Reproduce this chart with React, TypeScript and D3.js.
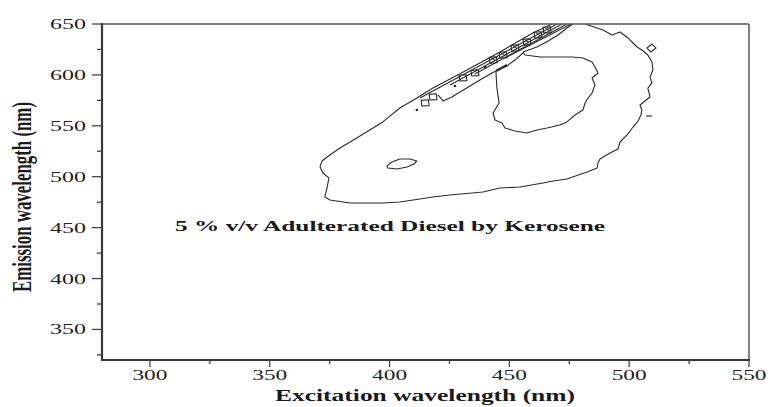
import React from "react";
import * as d3 from "d3";

// Axis ticks
const xMajor = [300, 350, 400, 450, 500, 550];
const xMinor = [325, 375, 425, 475, 525];
const yMajor = [350, 400, 450, 500, 550, 600, 650];
const yMinor = [325, 375, 425, 475, 525, 575, 625];

// Outer contour (excitation nm, emission nm)
const outerEx = [467.8, 459.8, 453.2, 446.1, 440.7, 432.3, 425.2, 418.1, 411.4, 404.3, 397.2, 389.7, 383.5, 379.3, 375.1, 371.8, 371, 372.2, 374.7, 373.9, 373, 375.1, 383.5, 397.2, 404.3, 418.1, 425.2, 439, 446.1, 454.4, 464, 468.2, 474, 482.4, 486.6, 487, 487.8, 492, 495.3, 496.2, 499.1, 501.6, 503.7, 504.9, 505.3, 504.5, 506.6, 508.7, 507.8, 509.5, 508.7, 509.9, 509.5, 507.8, 505.3, 503.3, 499.5, 496.2, 492.8, 489.1, 481.6];
const outerEm = [650, 641.2, 632.3, 622.5, 615.6, 604.8, 596, 587.1, 577.3, 567.5, 553.8, 543, 534.1, 528.2, 521.4, 515.5, 509.6, 503.7, 498.8, 488.9, 480.1, 477.2, 474.2, 474.2, 475.2, 480.1, 482.1, 485, 488.9, 489.9, 493.9, 495.8, 497.8, 504.7, 508.6, 513.5, 517.4, 523.3, 527.2, 534.1, 541, 548.8, 554.7, 560.6, 565.5, 570.5, 574.4, 578.3, 587.1, 592.1, 598, 604.8, 612.7, 619.6, 624.5, 627.4, 636.3, 642.1, 639.2, 644.1, 650];

// Inner "island" contour
const islandEx = [476.5, 474, 470.3, 466.9, 461.5, 455.7, 456.5, 459.8, 462.8, 465.7, 471.1, 476.1, 480.7, 484.5, 485.7, 487, 484.5, 485.7, 484.5, 482.8, 481.6, 480.7, 477.4, 474, 471.1, 465.7, 461.5, 457.3, 452.3, 448.2, 446.9, 444, 443.2, 445.7, 444.8, 444.4];
const islandEm = [650, 646.1, 639.2, 634.3, 627.4, 622.5, 619.6, 618.6, 617.6, 617.6, 617.6, 617.6, 616.6, 612.7, 607.8, 601.9, 597, 590.1, 582.2, 577.3, 572.4, 565.5, 560.6, 553.8, 550.8, 547.9, 545.9, 543, 544.9, 547.9, 552.8, 555.7, 562.6, 572.4, 587.1, 602.9];

// Lower edge of the scatter band
const bandEx = [420.2, 422.3, 426, 431.5, 437.7, 442.7, 446.1, 449, 452.3, 455.7];
const bandEm = [580.3, 574.4, 578.3, 586.2, 595, 601.9, 605.8, 608.8, 614.6, 621.5];

// Dense parallel contours in the band (start / end points)
const ridgeStartEx = [412.7, 425.2, 435.6, 448.2];
const ridgeStartEm = [577.3, 590.1, 600.9, 616.6];
const ridgeEndEx = [469.9, 472, 474, 475.7];
const ridgeEndEm = [650, 650, 650, 650];

// Short heavy segment where the band meets the island
const notchEx = [444.4, 449];
const notchEm = [603.9, 609.8];

// Small closed loops along the band
const loopEx = [414.8, 418.1, 430.6, 435.6, 443.2, 447.3, 452.3, 457.3, 461.9, 465.7];
const loopEm = [572.4, 578.3, 597, 601.9, 614.6, 619.6, 626.4, 632.3, 639.2, 644.1];
const loopNested = [false, false, false, false, true, true, true, true, true, true];

// Isolated points
const dotEx = [411.4, 427.3, 439.8];
const dotEm = [565.5, 589.1, 607.8];

// Small blob near (405, 512)
const blobEx = [398.9, 401, 404.3, 408.5, 411.4, 410.2, 407.3, 403.1, 399.3];
const blobEm = [510.6, 514.5, 517.4, 517.4, 515.5, 512.5, 509.6, 507.6, 508.6];

// Small diamond at the right
const diamondEx = [507.4, 509.5, 511.2, 509.1];
const diamondEm = [626.4, 630.4, 626.4, 622.5];

// Short dash at right
const dashEx = [507, 509.5];
const dashEm = [559.7, 559.7];

const W = 769;
const H = 407;
const L = 102, R = 749, T = 24, B = 360;
const FONT = "'Liberation Serif', 'Times New Roman', serif";

const xScale = d3.scaleLinear().domain([280, 550]).range([L, R]);
const yScale = d3.scaleLinear().domain([320, 650]).range([B, T]);

const zip = (a: number[], b: number[]): [number, number][] => a.map((v, i) => [v, b[i]]);

const line = d3
  .line<[number, number]>()
  .x((d) => xScale(d[0]))
  .y((d) => yScale(d[1]));

const closed = d3
  .line<[number, number]>()
  .x((d) => xScale(d[0]))
  .y((d) => yScale(d[1]))
  .curve(d3.curveLinearClosed);

export default function App() {
  const stroke = "#2a2a2a";
  const loops = loopEx.map((ex, i) => {
    const em = loopEm[i];
    const pts: [number, number][] = [
      [ex - 1.6, em + 2.6],
      [ex + 1.4, em + 3.2],
      [ex + 1.7, em - 2.6],
      [ex - 1.3, em - 3.0],
    ];
    const inner: [number, number][] = [
      [ex - 0.7, em + 1.4],
      [ex + 0.7, em + 0.2],
      [ex + 0.5, em - 1.4],
    ];
    return { pts, inner, nested: loopNested[i] };
  });

  return (
    <svg
      width={W}
      height={H}
      viewBox={`0 0 ${W} ${H}`}
      style={{ position: "absolute", left: 0, top: 0, background: "#fff" }}
    >
      <defs>
        <clipPath id="plot">
          <rect x={L} y={T} width={R - L} height={B - T} />
        </clipPath>
      </defs>
      <rect x={0} y={0} width={W} height={H} fill="#fff" />

      <g clipPath="url(#plot)" fill="none" stroke={stroke} strokeWidth={1.1} strokeLinejoin="round">
        <path d={line(zip(outerEx, outerEm)) || ""} />
        <path d={line(zip(islandEx, islandEm)) || ""} />
        <path d={line(zip(bandEx, bandEm)) || ""} />
        {ridgeStartEx.map((sx, i) => (
          <path
            key={"r" + i}
            d={line([[sx, ridgeStartEm[i]], [ridgeEndEx[i], ridgeEndEm[i]]]) || ""}
          />
        ))}
        <path d={line(zip(notchEx, notchEm)) || ""} strokeWidth={2.4} />
        {loops.map((lp, i) => (
          <g key={"l" + i}>
            <path d={closed(lp.pts) || ""} />
            {lp.nested && <path d={line(lp.inner) || ""} strokeWidth={0.9} />}
          </g>
        ))}
        <path d={closed(zip(blobEx, blobEm)) || ""} />
        <path d={closed(zip(diamondEx, diamondEm)) || ""} />
        <path d={line(zip(dashEx, dashEm)) || ""} />
        {dotEx.map((ex, i) => (
          <circle key={"d" + i} cx={xScale(ex)} cy={yScale(dotEm[i])} r={1.3} fill={stroke} stroke="none" />
        ))}
      </g>

      {/* frame */}
      <line x1={L} y1={T} x2={R} y2={T} stroke="#555" strokeWidth={1.5} />
      <line x1={R} y1={T} x2={R} y2={B} stroke="#555" strokeWidth={1.5} />
      <line x1={L} y1={T - 1} x2={L} y2={B + 1} stroke="#3a3a3a" strokeWidth={2.2} />
      <line x1={L - 1} y1={B} x2={R + 1} y2={B} stroke="#3a3a3a" strokeWidth={2.2} />

      {/* y ticks */}
      {yMajor.map((v) => (
        <g key={"ym" + v}>
          <line x1={L - 10} x2={L} y1={yScale(v)} y2={yScale(v)} stroke="#444" strokeWidth={1.3} />
          <text
            x={86}
            y={yScale(v) + 5}
            textAnchor="end"
            fontFamily={FONT}
            fontSize={15}
            fill="#222"
            textLength={36}
            lengthAdjust="spacingAndGlyphs"
          >
            {v}
          </text>
        </g>
      ))}
      {yMinor.map((v) => (
        <line key={"yn" + v} x1={L - 5} x2={L} y1={yScale(v)} y2={yScale(v)} stroke="#444" strokeWidth={1.3} />
      ))}

      {/* x ticks */}
      {xMajor.map((v) => (
        <g key={"xm" + v}>
          <line x1={xScale(v)} x2={xScale(v)} y1={B} y2={B + 7} stroke="#444" strokeWidth={1.3} />
          <text
            x={xScale(v)}
            y={380}
            textAnchor="middle"
            fontFamily={FONT}
            fontSize={15}
            fill="#222"
            textLength={35}
            lengthAdjust="spacingAndGlyphs"
          >
            {v}
          </text>
        </g>
      ))}
      {xMinor.map((v) => (
        <line key={"xn" + v} x1={xScale(v)} x2={xScale(v)} y1={B} y2={B + 4} stroke="#444" strokeWidth={1.3} />
      ))}

      {/* annotation */}
      <text
        x={390}
        y={231}
        textAnchor="middle"
        fontFamily={FONT}
        fontWeight="bold"
        fontSize={15}
        fill="#1a1a1a"
        textLength={430}
        lengthAdjust="spacingAndGlyphs"
      >
        5 % v/v Adulterated Diesel by Kerosene
      </text>

      {/* axis titles */}
      <text
        x={425}
        y={401}
        textAnchor="middle"
        fontFamily={FONT}
        fontWeight="bold"
        fontSize={16}
        fill="#1a1a1a"
        textLength={300}
        lengthAdjust="spacingAndGlyphs"
      >
        Excitation wavelength (nm)
      </text>
      <text
        transform="translate(31,197) rotate(-90) scale(1,1.6)"
        textAnchor="middle"
        fontFamily={FONT}
        fontWeight="bold"
        fontSize={17}
        fill="#1a1a1a"
        textLength={190}
        lengthAdjust="spacingAndGlyphs"
      >
        Emission wavelength (nm)
      </text>
    </svg>
  );
}
